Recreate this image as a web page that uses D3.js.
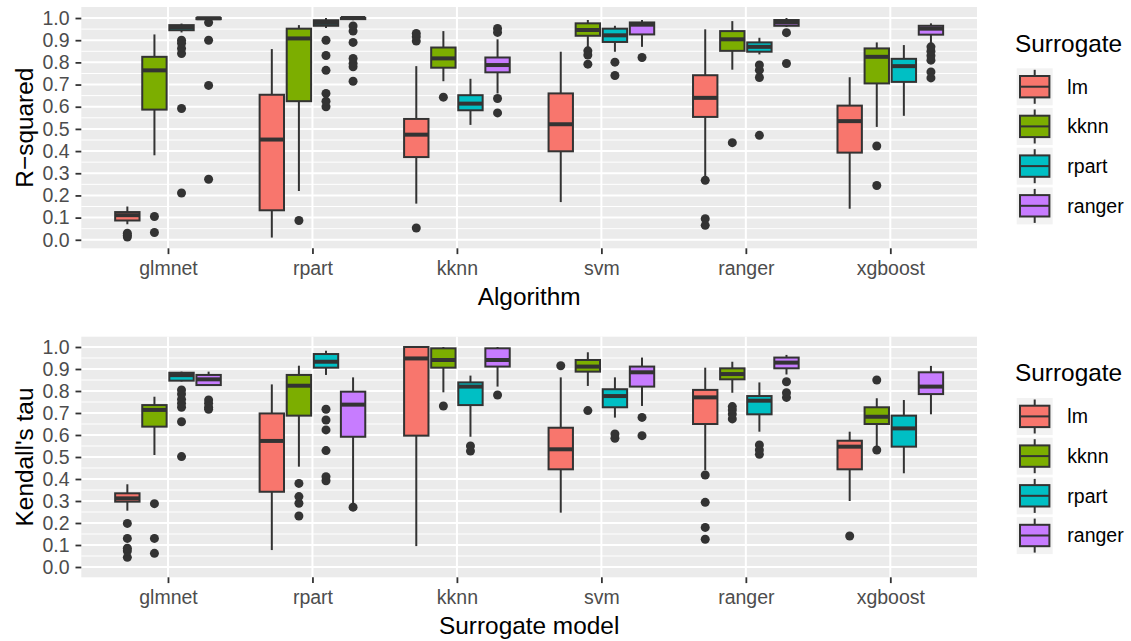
<!DOCTYPE html>
<html>
<head>
<meta charset="utf-8">
<script src="https://cdn.jsdelivr.net/npm/d3@7/dist/d3.min.js"></script>
<style>
html,body{margin:0;padding:0;background:#fff;}
svg{display:block;font-family:"Liberation Sans",Arial,Helvetica,sans-serif;}
</style>
</head>
<body>
<svg id="chart" width="1131" height="641"></svg>
<script>
// ---------- data ----------
const algorithms = ["glmnet", "rpart", "kknn", "svm", "ranger", "xgboost"];
const surrogates = ["lm", "kknn", "rpart", "ranger"];
const yTicks = [0, 0.1, 0.2, 0.3, 0.4, 0.5, 0.6, 0.7, 0.8, 0.9, 1.0];
const yMinor = [0.05, 0.15, 0.25, 0.35, 0.45, 0.55, 0.65, 0.75, 0.85, 0.95];

// box stats per algorithm: [lower whisker, q1, median, q3, upper whisker]
// R-squared panel
const r2_lm = [[0.07,0.087,0.111,0.125,0.15],[0.01,0.133,0.452,0.654,0.86],[0.163,0.373,0.474,0.545,0.783],[0.17,0.399,0.521,0.66,0.848],[0.285,0.554,0.64,0.742,0.949],[0.14,0.393,0.535,0.605,0.733]];
const r2_lm_out = [[0.012,0.02,0.03],[],[0.053,0.896,0.915,0.93],[],[0.065,0.095,0.268],[]];
const r2_kknn = [[0.381,0.587,0.764,0.825,0.926],[0.22,0.625,0.908,0.952,0.968],[0.715,0.776,0.818,0.867,0.941],[0.863,0.92,0.946,0.976,0.991],[0.767,0.852,0.904,0.941,0.986],[0.509,0.705,0.825,0.863,0.89]];
const r2_kknn_out = [[0.033,0.105],[0.087],[0.643],[0.792,0.833,0.852],[0.438],[0.245,0.423]];
const r2_rpart = [[0.935,0.945,0.958,0.968,0.975],[0.955,0.965,0.978,0.99,1.0],[0.518,0.584,0.614,0.652,0.726],[0.848,0.892,0.922,0.952,0.965],[0.836,0.848,0.87,0.89,0.911],[0.559,0.712,0.783,0.816,0.878]];
const r2_rpart_out = [[0.211,0.592,0.84,0.863,0.886,0.9],[0.6,0.625,0.66,0.764,0.831,0.9],[],[0.741,0.801],[0.471,0.732,0.765,0.788],[]];
const r2_ranger = [[0.99,0.995,0.999,1.0,1.0],[0.99,0.995,1.0,1.0,1.0],[0.66,0.755,0.788,0.822,0.904],[0.87,0.926,0.97,0.98,0.991],[0.96,0.965,0.98,0.991,1.0],[0.885,0.925,0.952,0.965,0.976]];
const r2_ranger_out = [[0.273,0.696,0.9,0.98],[0.715,0.78,0.795,0.818,0.89,0.941,0.964],[0.572,0.637,0.935,0.953],[0.822],[0.795,0.934],[0.73,0.757,0.81,0.83,0.85,0.87]];

// Kendall's tau panel
const kt_lm = [[0.256,0.297,0.312,0.335,0.376],[0.077,0.342,0.573,0.698,0.83],[0.095,0.597,0.948,1.0,1.0],[0.247,0.444,0.535,0.633,0.862],[0.44,0.65,0.771,0.805,0.906],[0.3,0.444,0.547,0.574,0.615]];
const kt_lm_out = [[0.044,0.073,0.085,0.13,0.198],[],[],[0.915],[0.126,0.18,0.294,0.418],[0.141]];
const kt_kknn = [[0.509,0.638,0.714,0.736,0.774],[0.456,0.688,0.824,0.873,0.915],[0.794,0.906,0.941,0.994,1.0],[0.823,0.888,0.911,0.941,0.976],[0.792,0.853,0.877,0.903,0.933],[0.545,0.65,0.683,0.726,0.767]];
const kt_kknn_out = [[0.062,0.13,0.288],[0.232,0.29,0.32,0.38],[0.732],[0.711],[0.673,0.695,0.714,0.729],[0.532,0.85]];
const kt_rpart = [[0.843,0.847,0.872,0.883,0.888],[0.873,0.906,0.933,0.968,0.983],[0.592,0.736,0.82,0.839,0.87],[0.679,0.726,0.777,0.808,0.862],[0.615,0.694,0.756,0.777,0.839],[0.426,0.547,0.63,0.688,0.759]];
const kt_rpart_out = [[0.502,0.66,0.726,0.744,0.762,0.786,0.805],[0.392,0.41,0.529,0.623,0.668,0.717],[0.527,0.55],[0.585,0.605],[0.512,0.532,0.555],[]];
const kt_ranger = [[0.824,0.827,0.853,0.873,0.888],[0.29,0.592,0.738,0.797,0.862],[0.82,0.911,0.941,0.994,1.0],[0.732,0.82,0.885,0.911,0.952],[0.875,0.903,0.929,0.952,0.964],[0.694,0.786,0.82,0.885,0.914]];
const kt_ranger_out = [[0.717,0.726,0.744,0.759],[0.272],[0.782],[0.597,0.68],[0.771,0.792,0.842],[]];

const palette = ["#F8766D", "#7CAE00", "#00BFC4", "#C77CFF"];

// ---------- build ----------
const svg = d3.select("#chart");
const FONT_TICK = 19.5, FONT_TITLE = 24.4;
const xLeft = 81.3, xRight = 977;

const x = d3.scalePoint().domain(algorithms).range([xLeft, xRight]).padding(0.6);
const step = x.step();
const dodge = d3.scaleBand().domain(surrogates).range([-0.375 * step, 0.375 * step]);
const boxW = dodge.bandwidth() * 0.9;

const panels = [
  {y0: 7, y1: 248.3, domain: [-0.0384, 1.0497], ytitle: "R\u2212squared", xtitle: "Algorithm",
   stats: [r2_lm, r2_kknn, r2_rpart, r2_ranger], outs: [r2_lm_out, r2_kknn_out, r2_rpart_out, r2_ranger_out]},
  {y0: 336.7, y1: 577.3, domain: [-0.0468, 1.0468], ytitle: "Kendall's tau", xtitle: "Surrogate model",
   stats: [kt_lm, kt_kknn, kt_rpart, kt_ranger], outs: [kt_lm_out, kt_kknn_out, kt_rpart_out, kt_ranger_out]}
];

panels.forEach((p, pi) => {
  const y = d3.scaleLinear().domain(p.domain).range([p.y1, p.y0]);
  const g = svg.append("g");
  // background
  g.append("rect").attr("x", xLeft).attr("y", p.y0).attr("width", xRight - xLeft).attr("height", p.y1 - p.y0).attr("fill", "#EBEBEB");
  // minor grid
  g.selectAll(".minor").data(yMinor).join("line")
    .attr("x1", xLeft).attr("x2", xRight).attr("y1", d => y(d)).attr("y2", d => y(d))
    .attr("stroke", "#fff").attr("stroke-width", 1);
  // major grid
  g.selectAll(".major").data(yTicks).join("line")
    .attr("x1", xLeft).attr("x2", xRight).attr("y1", d => y(d)).attr("y2", d => y(d))
    .attr("stroke", "#fff").attr("stroke-width", 2);
  g.selectAll(".vmajor").data(algorithms).join("line")
    .attr("x1", d => x(d)).attr("x2", d => x(d)).attr("y1", p.y0).attr("y2", p.y1)
    .attr("stroke", "#fff").attr("stroke-width", 2);

  // boxes
  surrogates.forEach((s, si) => {
    const col = palette[si];
    const stats = p.stats[si], outs = p.outs[si];
    algorithms.forEach((a, ai) => {
      const [lo, q1, med, q3, hi] = stats[ai];
      const cx = x(a) + dodge(s) + dodge.bandwidth() / 2;
      const bg = g.append("g");
      // outliers
      bg.selectAll("circle").data(outs[ai]).join("circle")
        .attr("cx", cx).attr("cy", d => y(d)).attr("r", 4.5).attr("fill", "#333333");
      // whiskers
      bg.append("line").attr("x1", cx).attr("x2", cx).attr("y1", y(q3)).attr("y2", y(hi))
        .attr("stroke", "#333333").attr("stroke-width", 2);
      bg.append("line").attr("x1", cx).attr("x2", cx).attr("y1", y(q1)).attr("y2", y(lo))
        .attr("stroke", "#333333").attr("stroke-width", 2);
      // box
      bg.append("rect").attr("x", cx - boxW / 2).attr("y", y(q3)).attr("width", boxW)
        .attr("height", Math.max(0, y(q1) - y(q3))).attr("fill", col)
        .attr("stroke", "#333333").attr("stroke-width", 2);
      // median
      bg.append("line").attr("x1", cx - boxW / 2).attr("x2", cx + boxW / 2).attr("y1", y(med)).attr("y2", y(med))
        .attr("stroke", "#333333").attr("stroke-width", 4);
    });
  });

  // y axis
  const ya = g.append("g").attr("transform", `translate(${xLeft},0)`)
    .call(d3.axisLeft(y).tickValues(yTicks).tickFormat(d3.format(".1f")).tickSize(5.8).tickPadding(6));
  ya.select(".domain").remove();
  ya.selectAll(".tick line").attr("stroke", "#333333").attr("stroke-width", 1.8);
  ya.selectAll(".tick text").attr("fill", "#4D4D4D").style("font-size", FONT_TICK + "px")
    .style("font-family", "'Liberation Sans',Arial,sans-serif");

  // x axis
  const xa = g.append("g").attr("transform", `translate(0,${p.y1})`)
    .call(d3.axisBottom(x).tickSize(5.8).tickPadding(7));
  xa.select(".domain").remove();
  xa.selectAll(".tick line").attr("stroke", "#333333").attr("stroke-width", 1.8);
  xa.selectAll(".tick text").attr("fill", "#4D4D4D").style("font-size", FONT_TICK + "px")
    .style("font-family", "'Liberation Sans',Arial,sans-serif");

  // titles
  g.append("text").attr("x", (xLeft + xRight) / 2).attr("y", p.y1 + 56.7)
    .attr("text-anchor", "middle").style("font-size", FONT_TITLE + "px").attr("fill", "#000").text(p.xtitle);
  g.append("text").attr("transform", `translate(33.3,${(p.y0 + p.y1) / 2}) rotate(-90)`)
    .attr("text-anchor", "middle").style("font-size", FONT_TITLE + "px").attr("fill", "#000").text(p.ytitle);

  // legend
  const off = p.y0 - 7;
  const lg = g.append("g").attr("transform", `translate(0,${off})`);
  lg.append("text").attr("x", 1015).attr("y", 51.7).style("font-size", FONT_TITLE + "px").attr("fill", "#000").text("Surrogate");
  surrogates.forEach((s, si) => {
    const ky = 68.3 + si * 39.7;
    const kx = 1016.7;
    const kg = lg.append("g");
    kg.append("rect").attr("x", kx).attr("y", ky).attr("width", 36).attr("height", 37).attr("fill", "#F2F2F2");
    const cx = kx + 18;
    kg.append("line").attr("x1", cx).attr("x2", cx).attr("y1", ky + 1.5).attr("y2", ky + 35.5)
      .attr("stroke", "#333333").attr("stroke-width", 2);
    kg.append("rect").attr("x", kx + 3.3).attr("y", ky + 7.7).attr("width", 29.4).attr("height", 21.4)
      .attr("fill", palette[si]).attr("stroke", "#333333").attr("stroke-width", 2);
    kg.append("line").attr("x1", kx + 3.3).attr("x2", kx + 32.7).attr("y1", ky + 18.4).attr("y2", ky + 18.4)
      .attr("stroke", "#333333").attr("stroke-width", 2);
    kg.append("text").attr("x", 1067.3).attr("y", ky + 18.4).attr("dy", "0.35em")
      .style("font-size", FONT_TICK + "px").attr("fill", "#000").text(s);
  });
});
</script>
</body>
</html>
